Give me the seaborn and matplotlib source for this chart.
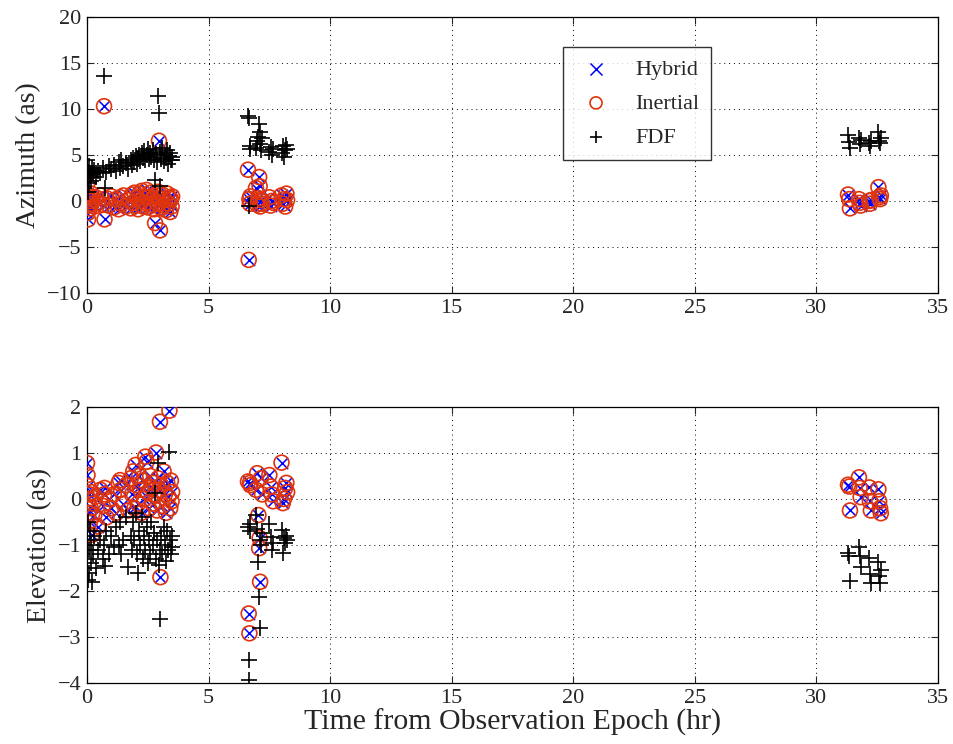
import matplotlib
matplotlib.use("Agg")
import matplotlib.pyplot as plt
import seaborn as sns
import pandas as pd

time_hr = [0.00, 0.02, 0.04, 0.05, 0.07, 0.10, 0.12, 0.15, 0.18, 0.20, 0.25, 0.30, 0.35, 0.45, 0.55, 0.65,
           0.70, 0.72, 0.80, 0.90, 1.00, 1.10, 1.20, 1.30, 1.36, 1.40, 1.50, 1.60, 1.70, 1.80, 1.85, 1.90,
           1.95, 2.00, 2.05, 2.10, 2.15, 2.20, 2.25, 2.30, 2.35, 2.40, 2.45, 2.50, 2.55, 2.60, 2.65, 2.70,
           2.75, 2.80, 2.84, 2.88, 2.92, 2.96, 3.00, 3.02, 3.05, 3.10, 3.15, 3.20, 3.25, 3.30, 3.35, 3.39,
           3.42, 3.45, 3.48, 3.50,
           6.62, 6.65, 6.68, 6.70, 6.72, 6.95, 7.00, 7.05, 7.08, 7.10, 7.12, 7.15, 7.20, 7.50, 7.55, 7.60,
           7.65, 8.00, 8.05, 8.10, 8.15, 8.20, 8.23,
           31.30, 31.35, 31.38, 31.75, 31.78, 31.82, 32.18, 32.20, 32.24, 32.55, 32.58, 32.62, 32.65]

az_inertial = [1.8, -1.3, -2.0, 0.3, -0.5, 0.5, -0.8, 0.0, 0.8, -0.3, 0.2, -0.6, 0.4, -0.2, 0.6, -0.4,
               10.3, -2.0, 0.3, -0.5, 0.5, -0.7, 0.2, -0.9, 0.4, -0.3, 0.6, -0.6, 0.1, -0.8, 0.7, -0.2,
               0.9, -0.5, 0.3, -0.9, 0.8, 0.0, 1.1, -0.6, 0.5, -0.2, 1.2, -0.7, 0.4, 0.9, -0.4, 0.2,
               -0.9, -2.4, 0.6, -0.3, 1.0, 6.55, -3.2, 0.3, -0.8, 0.7, -0.5, 0.1, -1.0, 0.8, -0.3, 0.4,
               -1.2, 0.2, -0.6, 0.5,
               3.4, -6.4, 0.2, -0.3, 0.5, 1.4, -0.4, 0.3, 2.6, 1.6, -0.6, 0.1, -0.3, 0.4, -0.5, 0.0,
               -0.2, 0.6, -0.3, 0.2, -0.6, 0.8, 0.1,
               0.7, 0.2, -0.8, 0.2, -0.2, -0.5, 0.0, -0.3, 0.1, 1.5, 0.4, 0.2, 0.6]
az_hybrid = [1.8, -1.3, -2.0, 0.3, -0.5, 0.5, -0.8, 0.0, 0.8, -0.3, 0.2, -0.6, 0.4, -0.2, 0.6, -0.4,
             10.3, -2.0, 0.3, -0.5, 0.5, -0.7, 0.2, -0.9, 0.4, -0.3, 0.6, -0.6, 0.1, -0.8, 0.7, -0.2,
             0.9, -0.5, 0.3, -0.9, 0.8, 0.0, 1.1, -0.6, 0.5, -0.2, 1.2, -0.7, 0.4, 0.9, -0.4, 0.2,
             -0.9, -2.4, 0.6, -0.3, 1.0, 6.55, -3.2, 0.3, -0.8, 0.7, -0.5, 0.1, -1.0, 0.8, -0.3, 0.4,
             -1.2, 0.2, -0.6, 0.5,
             3.4, -6.4, 0.2, -0.3, 0.5, 1.4, -0.4, 0.3, 2.6, 1.6, -0.6, 0.1, -0.3, 0.4, -0.5, 0.0,
             -0.2, 0.6, -0.3, 0.2, -0.6, 0.8, 0.1,
             0.7, 0.2, -0.8, 0.2, -0.2, -0.5, 0.0, -0.3, 0.1, 1.5, 0.4, 0.2, 0.6]
az_fdf = [2.5, 4.4, 1.0, 3.2, 2.0, 3.8, 2.7, 3.0, 2.2, 3.6, 2.9, 3.4, 2.6, 3.3, 3.0, 3.6,
          13.6, 1.4, 3.2, 3.8, 3.5, 3.9, 3.3, 4.2, 3.6, 4.4, 3.8, 4.1, 3.5, 4.5, 3.9, 4.7,
          4.2, 4.9, 4.0, 4.6, 5.0, 4.3, 5.2, 4.7, 5.4, 4.4, 5.0, 5.6, 4.6, 5.2, 4.8, 5.5,
          4.5, 2.3, 5.1, 4.2, 11.4, 9.6, 1.6, 5.3, 4.6, 5.8, 4.3, 5.0, 4.7, 5.5, 4.0, 4.9,
          5.2, 4.4, 4.8, 4.5,
          9.2, 9.0, -0.5, 5.6, 6.0, 5.8, 6.5, 7.0, 8.4, 7.5, 6.2, 5.5, 6.8, 5.3, 5.9, 5.0,
          5.6, 5.2, 6.0, 4.8, 5.5, 6.1, 5.7,
          7.2, 6.4, 5.8, 6.8, 6.2, 6.6, 6.3, 6.0, 6.5, 7.5, 6.5, 6.3, 6.8]

el_inertial = [0.78, 0.52, 0.28, 0.0, -0.3, 0.1, -0.5, -0.2, 0.15, -0.78, -0.1, -0.35, 0.05, -0.6, 0.2, -0.15,
               0.1, 0.24, -0.4, 0.0, -0.2, 0.1, -0.3, 0.35, 0.41, 0.2, -0.1, 0.3, -0.25, 0.45, 0.1, 0.6,
               -0.2, 0.74, 0.3, -0.1, 0.5, 0.2, -0.3, 0.4, 0.0, 0.92, 0.81, 0.15, -0.2, 0.5, 0.25, -0.1,
               0.35, 0.1, 1.01, -0.25, 0.45, 0.2, 1.68, -1.70, 0.3, -0.15, 0.6, 0.1, -0.3, 0.35, 0.05, 1.92,
               -0.2, 0.4, -0.05, 0.15,
               0.38, -2.49, -2.92, 0.35, 0.3, 0.2, 0.56, -0.35, -1.07, -0.85, -1.80, 0.45, 0.1, 0.52, 0.27, 0.1,
               -0.05, 0.79, -0.09, 0.0, 0.24, 0.35, 0.15,
               0.31, 0.27, -0.25, 0.47, 0.24, 0.04, 0.25, -0.05, -0.25, 0.21, -0.05, -0.2, -0.31]
el_hybrid = [0.78, 0.52, 0.28, 0.0, -0.3, 0.1, -0.5, -0.2, 0.15, -0.78, -0.1, -0.35, 0.05, -0.6, 0.2, -0.15,
             0.1, 0.24, -0.4, 0.0, -0.2, 0.1, -0.3, 0.35, 0.41, 0.2, -0.1, 0.3, -0.25, 0.45, 0.1, 0.6,
             -0.2, 0.74, 0.3, -0.1, 0.5, 0.2, -0.3, 0.4, 0.0, 0.92, 0.81, 0.15, -0.2, 0.5, 0.25, -0.1,
             0.35, 0.1, 1.01, -0.25, 0.45, 0.2, 1.68, -1.70, 0.3, -0.15, 0.6, 0.1, -0.3, 0.35, 0.05, 1.92,
             -0.2, 0.4, -0.05, 0.15,
             0.38, -2.49, -2.92, 0.35, 0.3, 0.2, 0.56, -0.35, -1.07, -0.85, -1.80, 0.45, 0.1, 0.52, 0.27, 0.1,
             -0.05, 0.79, -0.09, 0.0, 0.24, 0.35, 0.15,
             0.31, 0.27, -0.25, 0.47, 0.24, 0.04, 0.25, -0.05, -0.25, 0.21, -0.05, -0.2, -0.31]
el_fdf = [-0.9, -1.3, -1.76, -0.5, -1.1, -1.6, -0.7, -1.4, -1.0, -1.8, -1.2, -0.8, -1.5, -1.1, -0.9, -1.3,
          -1.0, -1.45, -0.7, -1.2, -0.8, -1.05, -0.6, -1.0, -0.5, -1.2, -0.9, -0.4, -1.47, -0.8, -1.1, -0.5,
          -0.9, -0.3, -1.2, -1.61, -0.7, -1.0, -0.4, -1.3, -0.8, -1.1, -0.6, -1.4, -0.9, -1.2, -0.5, -1.0,
          -0.75, 0.12, -1.3, -0.9, 0.79, -1.43, -2.6, -1.1, -0.8, -1.2, -0.6, -1.0, -1.35, -0.7, -1.1, 1.03,
          -0.9, -1.2, -0.8, -1.05,
          -0.61, -3.5, -3.93, -0.7, -0.55, -0.35, -0.65, -1.36, -2.12, -2.8, -0.9, -1.0, -0.75, -0.54, -0.82, -1.1,
          -0.95, -0.67, -1.17, -0.85, -0.95, -0.8, -0.9,
          -1.18, -1.25, -1.78, -1.04, -1.25, -1.47, -1.29, -1.62, -1.83, -1.36, -1.67, -1.83, -1.55]

x_ticks = [0, 5, 10, 15, 20, 25, 30, 35]
az_ticks = [-10, -5, 0, 5, 10, 15, 20]
el_ticks = [-4, -3, -2, -1, 0, 1, 2]

sns.set_style("ticks")
plt.rcParams['font.family'] = ['Liberation Serif', 'DejaVu Serif']
plt.rcParams['mathtext.fontset'] = 'stix'

df = pd.DataFrame({"t": time_hr, "az_h": az_hybrid, "az_i": az_inertial, "az_f": az_fdf,
                   "el_h": el_hybrid, "el_i": el_inertial, "el_f": el_fdf})

fig = plt.figure(figsize=(9.54, 7.44), dpi=100)
ax1 = fig.add_axes([0.0912, 0.6062, 0.892, 0.371])
ax2 = fig.add_axes([0.0912, 0.0820, 0.892, 0.371])

blue = "#0000ff"
red = "#e0340c"

for ax, cols, ticks, lab in [(ax1, ("az_h", "az_i", "az_f"), az_ticks, "Azimuth (as)"),
                              (ax2, ("el_h", "el_i", "el_f"), el_ticks, "Elevation (as)")]:
    sns.scatterplot(data=df, x="t", y=cols[0], ax=ax, marker="x", color=blue, s=65,
                    linewidth=1.1, label="Hybrid", zorder=3)
    sns.scatterplot(data=df, x="t", y=cols[1], ax=ax, marker="o", facecolors="none",
                    edgecolors=red, s=115, linewidth=1.2, label="Inertial", zorder=3)
    sns.scatterplot(data=df, x="t", y=cols[2], ax=ax, marker="+", color="black", s=130,
                    linewidth=1.2, label="FDF", zorder=4)
    ax.set_xlim(0, 35)
    ax.set_ylim(ticks[0], ticks[-1])
    ax.set_xticks(x_ticks)
    ax.set_yticks(ticks)
    ax.grid(True, linestyle=(0, (1, 4)), color="black", linewidth=0.7)
    ax.tick_params(direction="in", top=True, right=True, labelsize=16, length=5, width=0.8, pad=4)
    for sp in ax.spines.values():
        sp.set_visible(True)
        sp.set_linewidth(0.9)
        sp.set_color("black")
    ax.set_ylabel(lab, fontsize=20, labelpad=4)
    ax.set_xlabel("")

ax2.get_legend().remove()
ax2.set_xlabel("Time from Observation Epoch (hr)", fontsize=21.5, labelpad=1)

leg = ax1.legend(loc="upper left", bbox_to_anchor=(0.559, 0.891), borderaxespad=0, fontsize=16,
                 frameon=True, fancybox=False, edgecolor="black", borderpad=0.55,
                 handletextpad=0.8, labelspacing=0.6, handlelength=1.9)
leg.get_frame().set_linewidth(1.0)
for h in leg.legend_handles:
    try:
        h.set_sizes([75])
    except Exception:
        pass

fig.savefig("out.png", dpi=100)
